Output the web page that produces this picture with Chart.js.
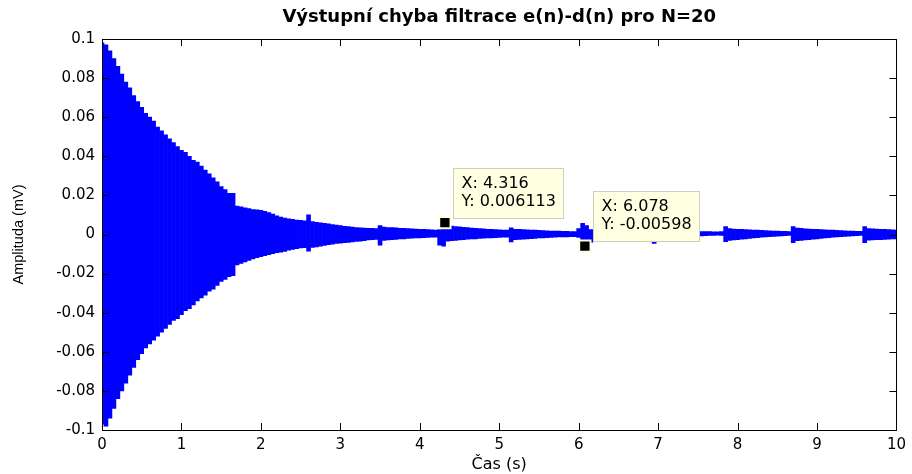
<!DOCTYPE html>
<html lang="cs">
<head>
<meta charset="UTF-8" />
<title>Výstupní chyba filtrace</title>
<script src="https://cdn.jsdelivr.net/npm/chart.js@4.4.1/dist/chart.umd.min.js"></script>
<style>
  html, body { margin: 0; padding: 0; background: #fff; }
</style>
</head>
<body>
<canvas id="errChart" width="912" height="474"></canvas>
<script>
// sample times (s), envelope of the error signal (mV)
const times = [
  0,0.05,0.1,0.15,0.2,0.25,0.3,0.35,0.4,0.45,0.5,0.55,0.6,0.65,0.7,0.75,0.8,0.85,0.9,0.95,
  1,1.05,1.1,1.15,1.2,1.25,1.3,1.35,1.4,1.45,1.5,1.55,1.6,1.65,1.7,1.75,1.8,1.85,1.9,1.95,
  2,2.05,2.1,2.15,2.2,2.25,2.3,2.35,2.4,2.45,2.5,2.55,2.6,2.65,2.7,2.75,2.8,2.85,2.9,2.95,
  3,3.05,3.1,3.15,3.2,3.25,3.3,3.35,3.4,3.45,3.5,3.55,3.6,3.65,3.7,3.75,3.8,3.85,3.9,3.95,
  4,4.05,4.1,4.15,4.2,4.25,4.3,4.35,4.4,4.45,4.5,4.55,4.6,4.65,4.7,4.75,4.8,4.85,4.9,4.95,
  5,5.05,5.1,5.15,5.2,5.25,5.3,5.35,5.4,5.45,5.5,5.55,5.6,5.65,5.7,5.75,5.8,5.85,5.9,5.95,
  6,6.05,6.1,6.15,6.2,6.25,6.3,6.35,6.4,6.45,6.5,6.55,6.6,6.65,6.7,6.75,6.8,6.85,6.9,6.95,
  7,7.05,7.1,7.15,7.2,7.25,7.3,7.35,7.4,7.45,7.5,7.55,7.6,7.65,7.7,7.75,7.8,7.85,7.9,7.95,
  8,8.05,8.1,8.15,8.2,8.25,8.3,8.35,8.4,8.45,8.5,8.55,8.6,8.65,8.7,8.75,8.8,8.85,8.9,8.95,
  9,9.05,9.1,9.15,9.2,9.25,9.3,9.35,9.4,9.45,9.5,9.55,9.6,9.65,9.7,9.75,9.8,9.85,9.9,9.95,
  10
];
const upper = [
  0.098,0.097,0.094,0.090,0.086,0.082,0.078,0.075,0.071,0.068,0.065,0.062,0.060,0.058,0.055,0.053,0.051,0.049,0.047,0.045,
  0.043,0.042,0.040,0.038,0.037,0.035,0.033,0.031,0.029,0.027,0.0245,0.023,0.021,0.021,0.0146,0.0142,0.0137,0.0132,0.0128,0.0126,
  0.0124,0.0118,0.0112,0.0104,0.0095,0.0089,0.0084,0.0080,0.0077,0.0074,0.0072,0.0070,0.0100,0.0066,0.0062,0.0060,0.0057,0.0054,0.0051,0.0048,
  0.0045,0.0042,0.0040,0.0038,0.0036,0.0034,0.0033,0.0032,0.0031,0.0030,0.0045,0.0038,0.0036,0.0035,0.0034,0.0032,0.0031,0.0030,0.0029,0.0028,
  0.0027,0.0026,0.0025,0.0024,0.0023,0.0025,0.0061,0.0044,0.0043,0.0041,0.0039,0.0037,0.0035,0.0033,0.0032,0.0030,0.0029,0.0027,0.0026,0.0025,
  0.0024,0.0023,0.0023,0.0034,0.0027,0.0026,0.0025,0.0024,0.0023,0.0022,0.0021,0.0020,0.0019,0.0018,0.0018,0.0017,0.0016,0.0016,0.0015,0.0015,
  0.0030,0.0057,0.0045,0.0025,0.0023,0.0023,0.0022,0.0022,0.0022,0.0021,0.0021,0.0021,0.0020,0.0020,0.0020,0.0020,0.0019,0.0019,0.0019,0.0020,
  0.0019,0.0018,0.0018,0.0018,0.0017,0.0017,0.0017,0.0016,0.0016,0.0016,0.0015,0.0015,0.0015,0.0015,0.0014,0.0014,0.0015,0.0040,0.0030,0.0028,
  0.0027,0.0026,0.0025,0.0024,0.0023,0.0022,0.0021,0.0020,0.0019,0.0018,0.0017,0.0016,0.0016,0.0015,0.0040,0.0033,0.0031,0.0029,0.0028,0.0027,
  0.0026,0.0025,0.0024,0.0023,0.0022,0.0021,0.0020,0.0019,0.0018,0.0017,0.0016,0.0016,0.0040,0.0030,0.0029,0.0028,0.0027,0.0026,0.0025,0.0024,
  0.0023
];
const lower = [
  -0.097,-0.098,-0.094,-0.089,-0.084,-0.080,-0.076,-0.072,-0.068,-0.064,-0.061,-0.058,-0.056,-0.054,-0.052,-0.050,-0.048,-0.046,-0.044,-0.043,
  -0.041,-0.039,-0.038,-0.036,-0.034,-0.0325,-0.031,-0.029,-0.028,-0.026,-0.024,-0.023,-0.0216,-0.021,-0.0156,-0.0148,-0.014,-0.0133,-0.0125,-0.0118,
  -0.0113,-0.0108,-0.0103,-0.0098,-0.0093,-0.0090,-0.0087,-0.0080,-0.0076,-0.0072,-0.0069,-0.0067,-0.0085,-0.0066,-0.0063,-0.0060,-0.0056,-0.0052,-0.0049,-0.0046,
  -0.0044,-0.0042,-0.0040,-0.0038,-0.0036,-0.0034,-0.0031,-0.0028,-0.0026,-0.0025,-0.0055,-0.0030,-0.0028,-0.0027,-0.0025,-0.0023,-0.0022,-0.0020,-0.0019,-0.0018,
  -0.0017,-0.0016,-0.0015,-0.0014,-0.0014,-0.0055,-0.0060,-0.0034,-0.0032,-0.0030,-0.0028,-0.0026,-0.0024,-0.0023,-0.0022,-0.0020,-0.0019,-0.0018,-0.0017,-0.0016,
  -0.0015,-0.0014,-0.0014,-0.0038,-0.0026,-0.0025,-0.0024,-0.0022,-0.0021,-0.0020,-0.0018,-0.0017,-0.0016,-0.0015,-0.0014,-0.0013,-0.0012,-0.0012,-0.0011,-0.0011,
  -0.0015,-0.0045,-0.0060,-0.0040,-0.0037,-0.0036,-0.0035,-0.0034,-0.0032,-0.0030,-0.0028,-0.0026,-0.0025,-0.0024,-0.0023,-0.0022,-0.0021,-0.0020,-0.0019,-0.0045,
  -0.0018,-0.0017,-0.0016,-0.0015,-0.0014,-0.0013,-0.0012,-0.0011,-0.0010,-0.0009,-0.0008,-0.0007,-0.0006,-0.0005,-0.0005,-0.0004,-0.0005,-0.0037,-0.0030,-0.0028,
  -0.0026,-0.0024,-0.0022,-0.0020,-0.0018,-0.0016,-0.0014,-0.0012,-0.0011,-0.0010,-0.0008,-0.0007,-0.0006,-0.0005,-0.0042,-0.0032,-0.0030,-0.0028,-0.0026,-0.0024,
  -0.0022,-0.0020,-0.0018,-0.0016,-0.0014,-0.0012,-0.0011,-0.0010,-0.0008,-0.0007,-0.0006,-0.0005,-0.0042,-0.0029,-0.0028,-0.0027,-0.0026,-0.0025,-0.0024,-0.0023,
  -0.0022
];

// data tips placed in the figure
const tipX = [4.316, 6.078];
const tipY = [0.006113, -0.00598];

const xTickLabels = ['0','1','2','3','4','5','6','7','8','9','10'];
const yTickLabels = ['-0.1','-0.08','-0.06','-0.04','-0.02','0','0.02','0.04','0.06','0.08','0.1'];

const TICK_LEN = 7;

// matlab style box with inward ticks on all four sides
const axesBox = {
  id: 'axesBox',
  afterDraw(chart) {
    const {ctx, chartArea: a, scales: {x, y}} = chart;
    ctx.save();
    ctx.strokeStyle = '#000';
    ctx.lineWidth = 1;
    ctx.beginPath();
    x.ticks.forEach(t => {
      const px = Math.round(x.getPixelForValue(t.value)) + 0.5;
      ctx.moveTo(px, a.bottom); ctx.lineTo(px, a.bottom - TICK_LEN);
      ctx.moveTo(px, a.top); ctx.lineTo(px, a.top + TICK_LEN);
    });
    y.ticks.forEach(t => {
      const py = Math.round(y.getPixelForValue(t.value)) + 0.5;
      ctx.moveTo(a.left, py); ctx.lineTo(a.left + TICK_LEN, py);
      ctx.moveTo(a.right, py); ctx.lineTo(a.right - TICK_LEN, py);
    });
    ctx.stroke();
    ctx.strokeRect(Math.round(a.left) + 0.5, Math.round(a.top) + 0.5,
                   Math.round(a.right - a.left), Math.round(a.bottom - a.top));
    ctx.restore();
  }
};

// yellow data tip boxes next to the markers
const dataTips = {
  id: 'dataTips',
  afterDatasetsDraw(chart) {
    const {ctx, scales: {x, y}} = chart;
    ctx.save();
    ctx.font = '16px "DejaVu Sans"';
    ctx.textBaseline = 'middle';
    tipX.forEach((tx, i) => {
      const px = x.getPixelForValue(tx);
      const py = y.getPixelForValue(tipY[i]);
      const lines = ['X: ' + tx, 'Y: ' + tipY[i]];
      const w = Math.round(Math.max(...lines.map(s => ctx.measureText(s).width)) + 16);
      const h = 50;
      const left = Math.round(px + 8) + 0.5;
      const top = Math.round(py - 5 - h) + 0.5;
      ctx.fillStyle = '#ffffe1';
      ctx.fillRect(left, top, w, h);
      ctx.strokeStyle = '#cfcfbf';
      ctx.lineWidth = 1;
      ctx.strokeRect(left, top, w, h);
      ctx.fillStyle = '#000';
      ctx.fillText(lines[0], left + 8, top + 15);
      ctx.fillText(lines[1], left + 8, top + 33);
    });
    ctx.restore();
  }
};

const ctx = document.getElementById('errChart').getContext('2d');
const errChart = new Chart(ctx, {
  type: 'bar',
  data: {
    datasets: [
      {
        label: 'e(n)-d(n)',
        data: times.map((t, i) => ({x: t, y: [lower[i], upper[i]]})),
        backgroundColor: '#0000ff',
        borderWidth: 0,
        borderSkipped: false,
        barPercentage: 1,
        categoryPercentage: 1,
        order: 2
      },
      {
        type: 'scatter',
        label: 'data tip',
        data: tipX.map((tx, i) => ({x: tx, y: tipY[i]})),
        pointStyle: 'rect',
        pointRadius: 8,
        backgroundColor: '#000',
        borderColor: '#ffffe1',
        borderWidth: 2,
        order: 1
      }
    ]
  },
  options: {
    responsive: false,
    animation: false,
    layout: { padding: { right: 11 } },
    plugins: {
      legend: { display: false },
      tooltip: { enabled: false },
      title: {
        display: true,
        fullSize: false,
        text: 'Výstupní chyba filtrace e(n)-d(n) pro N=20',
        color: '#000',
        font: { family: 'DejaVu Sans', size: 18, weight: 'bold' },
        padding: { top: 7, bottom: 10.4 }
      }
    },
    scales: {
      x: {
        type: 'linear',
        min: 0,
        max: 10,
        offset: false,
        grid: { display: false, drawTicks: false, offset: false },
        border: { display: false },
        ticks: {
          stepSize: 1,
          padding: 6,
          color: '#000',
          font: { family: 'DejaVu Sans', size: 15 },
          callback: (v, i) => xTickLabels[i]
        },
        title: {
          display: true,
          text: 'Čas (s)',
          color: '#000',
          font: { family: 'DejaVu Sans', size: 16 },
          padding: { top: 0, bottom: 0 }
        },
        afterFit: s => { s.height = 44; }
      },
      y: {
        min: -0.1,
        max: 0.1,
        grid: { display: false, drawTicks: false },
        border: { display: false },
        ticks: {
          stepSize: 0.02,
          padding: 7,
          color: '#000',
          font: { family: 'DejaVu Sans', size: 15 },
          callback: (v, i) => yTickLabels[i]
        },
        title: {
          display: true,
          text: 'Amplituda (mV)',
          color: '#000',
          font: { family: 'Liberation Sans', size: 14.5 },
          padding: { top: 10, bottom: 0 }
        },
        afterFit: s => { s.width = 102; }
      }
    }
  },
  plugins: [dataTips, axesBox]
});
</script>
</body>
</html>
